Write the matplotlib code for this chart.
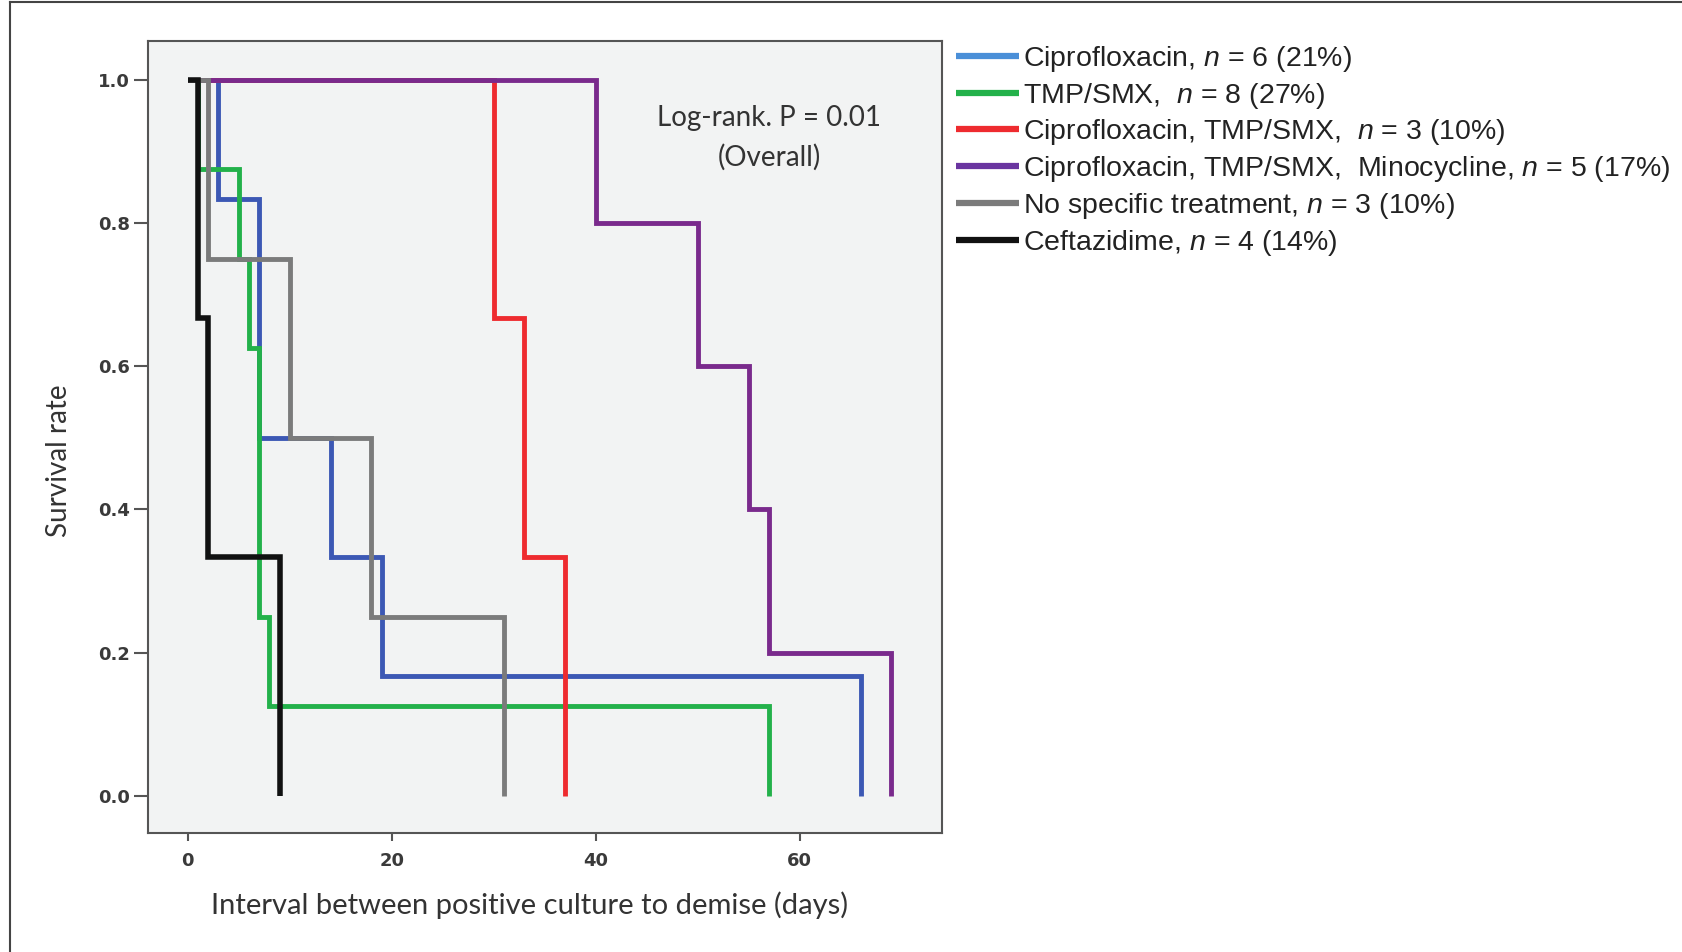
#!/usr/bin/env python3

import matplotlib
matplotlib.use("Agg")
import matplotlib.pyplot as plt
from matplotlib.lines import Line2D

plt.rcParams['mathtext.fontset'] = 'custom'
plt.rcParams['mathtext.it'] = 'Liberation Sans:italic'
plt.rcParams['mathtext.rm'] = 'Liberation Sans'

# Kaplan-Meier steps (days, survival rate)
cipro_t = [0, 3, 7, 14, 19, 66]
cipro_s = [1.0, 0.833, 0.5, 0.333, 0.167, 0.0]

tmp_t = [0, 1, 5, 6, 7, 8, 57]
tmp_s = [1.0, 0.875, 0.75, 0.625, 0.25, 0.125, 0.0]

combo_t = [0, 30, 33, 37]
combo_s = [1.0, 0.667, 0.333, 0.0]

triple_t = [0, 40, 50, 55, 57, 69]
triple_s = [1.0, 0.8, 0.6, 0.4, 0.2, 0.0]

none_t = [0, 2, 10, 18, 31]
none_s = [1.0, 0.75, 0.5, 0.25, 0.0]

cefta_t = [0, 1, 2, 9]
cefta_s = [1.0, 0.667, 0.333, 0.0]

labels = [
    r"Ciprofloxacin, $n$ = 6 (21%)",
    r"TMP/SMX,  $n$ = 8 (27%)",
    r"Ciprofloxacin, TMP/SMX,  $n$ = 3 (10%)",
    r"Ciprofloxacin, TMP/SMX,  Minocycline, $n$ = 5 (17%)",
    r"No specific treatment, $n$ = 3 (10%)",
    r"Ceftazidime, $n$ = 4 (14%)",
]
x_ticks = [0, 20, 40, 60]
y_ticks = [0.0, 0.2, 0.4, 0.6, 0.8, 1.0]


def main():
    fig = plt.figure(figsize=(16.83, 9.52), dpi=100)
    ax = fig.add_axes([0.088, 0.125, 0.472, 0.832])
    ax.set_facecolor("#f2f3f3")

    curves = [
        (cipro_t, cipro_s, "#3c58b4", "#4a8fd8", 3.5),
        (tmp_t, tmp_s, "#23b14a", "#23b14a", 3.5),
        (combo_t, combo_s, "#ee2b2f", "#ee2b2f", 3.5),
        (triple_t, triple_s, "#7a2a8c", "#6a35a0", 3.5),
        (none_t, none_s, "#7b7b7b", "#7b7b7b", 3.5),
        (cefta_t, cefta_s, "#111111", "#111111", 4.0),
    ]
    handles = []
    for (t, s, c, lc, lw), lab in zip(curves, labels):
        ax.step(t, s, where="post", color=c, lw=lw,
                solid_capstyle="butt", solid_joinstyle="miter")
        handles.append(Line2D([], [], color=lc, lw=4.5, solid_capstyle="butt"))

    ax.set_xlim(-3.9, 74)
    ax.set_ylim(-0.052, 1.054)
    ax.set_xticks(x_ticks)
    ax.set_yticks(y_ticks)
    ax.set_xticklabels([str(v) for v in x_ticks])
    ax.set_yticklabels(["%.1f" % v for v in y_ticks])
    for lab in ax.get_xticklabels() + ax.get_yticklabels():
        lab.set_fontfamily("DejaVu Sans")
        lab.set_fontsize(13)
        lab.set_fontweight("bold")
        lab.set_color("#3a3a3a")
    ax.tick_params(axis="y", length=10, width=1.5, color="#555555", pad=3)
    ax.tick_params(axis="x", length=6, width=1.5, color="#555555", pad=8)
    for sp in ax.spines.values():
        sp.set_color("#555555")
        sp.set_linewidth(1.5)

    ax.set_xlabel("Interval between positive culture to demise (days)",
                  fontfamily="Lato", fontsize=21, color="#333333")
    ax.xaxis.set_label_coords(0.48, -0.074)
    ax.set_ylabel("Survival rate", fontfamily="Lato", fontsize=20,
                  color="#333333")
    ax.yaxis.set_label_coords(-0.096, 0.47)

    ax.text(57, 0.947, "Log-rank. P = 0.01", ha="center", va="center",
            fontfamily="Lato", fontsize=20, color="#333333")
    ax.text(57, 0.892, "(Overall)", ha="center", va="center",
            fontfamily="Lato", fontsize=20, color="#333333")

    fig.legend(handles, labels, loc="upper left",
               bbox_to_anchor=(0.568, 0.954), frameon=False,
               prop={"family": "Liberation Sans", "size": 20.5},
               handlelength=2.2, handletextpad=0.15, labelspacing=0.24,
               borderaxespad=0, borderpad=0, labelcolor="#222222")

    # outer frame lines (left and top)
    fig.add_artist(Line2D([0.006, 0.006], [0, 0.998], color="#444444",
                          lw=1.5, transform=fig.transFigure))
    fig.add_artist(Line2D([0.006, 1.0], [0.998, 0.998], color="#444444",
                          lw=1.5, transform=fig.transFigure))

    fig.savefig("out.png", dpi=100, facecolor="white")


if __name__ == "__main__":
    main()
